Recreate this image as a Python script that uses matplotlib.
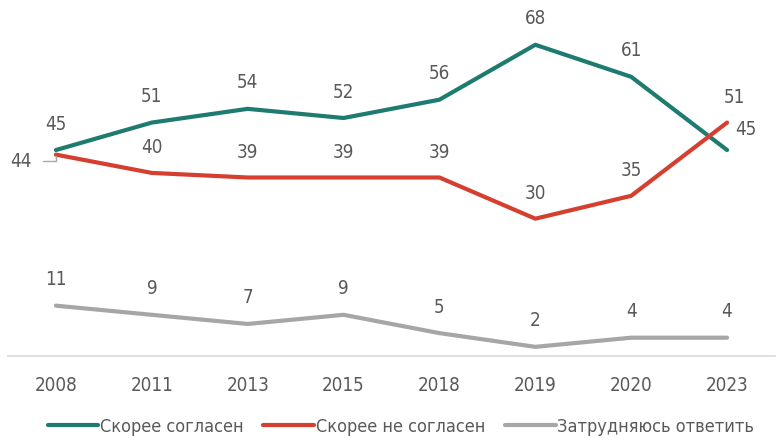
import matplotlib
matplotlib.use("Agg")
import matplotlib.pyplot as plt

years = ["2008", "2011", "2013", "2015", "2018", "2019", "2020", "2023"]
agree = [45, 51, 54, 52, 56, 68, 61, 45]
disagree = [44, 40, 39, 39, 39, 30, 35, 51]
hard = [11, 9, 7, 9, 5, 2, 4, 4]

names = ["Скорее согласен", "Скорее не согласен", "Затрудняюсь ответить"]
colors = ["#1E7B70", "#D43F2F", "#A6A6A6"]
txt = "#595959"

plt.rcParams['font.family'] = ['DejaVu Sans']
plt.rcParams['font.stretch'] = 'condensed'

fig = plt.figure(figsize=(7.77, 4.39), dpi=100)
ax = fig.add_axes([8 / 777, 82 / 439, 767 / 777, 1 - 82 / 439])

x = list(range(len(years)))
series = [agree, disagree, hard]
for vals, c, n in zip(series, colors, names):
    ax.plot(x, vals, color=c, lw=3.0, solid_capstyle='round', label=n)

fs = 13.5
# labels above points, a few moved by hand like in the original
for i, v in enumerate(agree):
    off = (19, 22) if i == 7 else (0, 27)
    ax.annotate(str(v), (i, v), xytext=off, textcoords='offset pixels',
                ha='center', va='center', fontsize=fs, color=txt)
for i, v in enumerate(disagree):
    if i == 0:
        ax.annotate(str(v), (i, v), xytext=(-35, -6), textcoords='offset pixels',
                    ha='center', va='center', fontsize=fs, color=txt,
                    arrowprops=dict(arrowstyle='-', color='#A6A6A6', lw=1,
                                    connectionstyle='angle,angleA=0,angleB=90,rad=0',
                                    relpos=(1, 0.5), shrinkA=6, shrinkB=1))
    else:
        off = (7, 26) if i == 7 else (0, 26)
        ax.annotate(str(v), (i, v), xytext=off, textcoords='offset pixels',
                    ha='center', va='center', fontsize=fs, color=txt)
for i, v in enumerate(hard):
    ax.annotate(str(v), (i, v), xytext=(0, 27), textcoords='offset pixels',
                ha='center', va='center', fontsize=fs, color=txt)

ax.set_xlim(-0.5, len(years) - 0.5)
ax.set_ylim(0, 78)
ax.set_xticks(x)
ax.set_xticklabels(years, fontsize=fs, color=txt)
ax.tick_params(axis='x', length=0, pad=14)
ax.set_yticks([])
for s in ['top', 'right', 'left']:
    ax.spines[s].set_visible(False)
ax.spines['bottom'].set_color('#D9D9D9')
ax.spines['bottom'].set_linewidth(1.2)
ax.patch.set_alpha(0)

leg = fig.legend(loc='lower center', bbox_to_anchor=(0.516, -0.03), ncol=3, frameon=False,
                 fontsize=13, handlelength=2.8, handletextpad=0.1, columnspacing=1.1)
for t in leg.get_texts():
    t.set_color(txt)

fig.savefig("out.png", dpi=100)
